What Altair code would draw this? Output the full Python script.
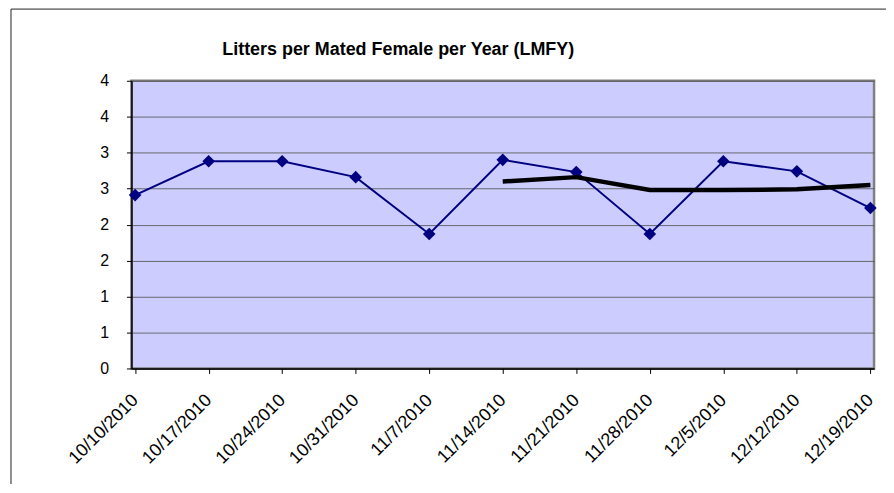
import altair as alt
import pandas as pd

dates = ["10/10/2010", "10/17/2010", "10/24/2010", "10/31/2010", "11/7/2010",
         "11/14/2010", "11/21/2010", "11/28/2010", "12/5/2010", "12/12/2010", "12/19/2010"]
lmfy = [2.41, 2.88, 2.88, 2.66, 1.87, 2.90, 2.73, 1.87, 2.88, 2.74, 2.23]
avg = [None, None, None, None, None, 2.60, 2.66, 2.48, 2.48, 2.49, 2.55]
title_text = "Litters per Mated Female per Year (LMFY)"
y_ticks = [0, 0.5, 1, 1.5, 2, 2.5, 3, 3.5, 4]

df = pd.DataFrame({"date": dates, "lmfy": lmfy, "avg": avg})

W, H = 746, 289
PAD = {"left": 124, "top": 72, "right": 12, "bottom": 115}

xenc = alt.X("date:O", sort=None, title=None,
             scale=alt.Scale(type="point", padding=0.05),
             axis=alt.Axis(labelAngle=-45, labelAlign="right", labelBaseline="middle",
                           labelFont="Liberation Sans", labelFontSize=18, labelColor="black",
                           labelPadding=24, tickSize=5, tickColor="black",
                           domainColor="black", domainWidth=1.5, grid=False))
yscale = alt.Scale(domain=[0, 4], nice=False)
yaxis = alt.Axis(values=y_ticks,
                 labelExpr="'' + round(datum.value)",
                 labelFont="Liberation Sans", labelFontSize=16, labelColor="black",
                 labelPadding=18, tickSize=5, tickColor="black",
                 domainColor="black", domainWidth=1.5,
                 grid=True, gridColor="#555555", gridOpacity=0.85, gridWidth=1)

def yenc(field):
    return alt.Y(field, scale=yscale, axis=yaxis, title=None)

base = alt.Chart(df)

frame = alt.Chart(pd.DataFrame({"k": [0]})).mark_rect(
    fill=None, stroke="#222222", strokeWidth=1
).encode(x=alt.value(-PAD["left"] + 3), x2=alt.value(W + 600),
         y=alt.value(-PAD["top"]), y2=alt.value(H + 600))

title = alt.Chart(pd.DataFrame({"t": [title_text]})).mark_text(
    font="Liberation Sans", fontSize=18, fontWeight="bold", color="black",
    align="center", baseline="middle"
).encode(text="t:N", x=alt.value(268), y=alt.value(-31))

line = base.mark_line(color="#000080", strokeWidth=2).encode(x=xenc, y=yenc("lmfy:Q"))
pts = base.mark_point(shape="diamond", filled=True, color="#000080",
                      size=160, opacity=1).encode(x=xenc, y=yenc("lmfy:Q"))
ma = base.transform_filter("isValid(datum.avg)").mark_line(
    color="black", strokeWidth=4.5).encode(x=xenc, y=yenc("avg:Q"))

chart = alt.layer(line, pts, ma, frame, title).properties(
    width=W, height=H,
    autosize=alt.AutoSizeParams(type="none"),
    padding=PAD,
    background="white",
).configure_view(fill="#CCCCFF", stroke="#808080", strokeWidth=2.5)

chart.save("out.html", embed_options={"renderer": "svg", "actions": False})
